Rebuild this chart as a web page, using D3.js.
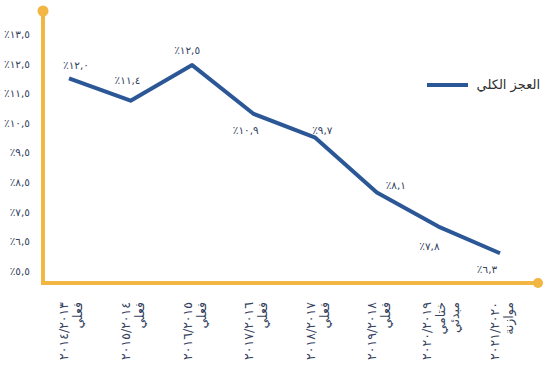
<!DOCTYPE html>
<html lang="ar">
<head>
<meta charset="utf-8">
<script src="https://cdn.jsdelivr.net/npm/d3@7/dist/d3.min.js"></script>
<style>
  html, body { margin: 0; padding: 0; background: #ffffff; }
  svg { display: block; font-family: "DejaVu Sans", "Noto Sans", sans-serif; }
</style>
</head>
<body>
<svg id="chart" width="550" height="366"></svg>
<script>
// ---- data ----
const categories = [
  ["٢٠١٤/٢٠١٣", "فعلي"],
  ["٢٠١٥/٢٠١٤", "فعلي"],
  ["٢٠١٦/٢٠١٥", "فعلي"],
  ["٢٠١٧/٢٠١٦", "فعلي"],
  ["٢٠١٨/٢٠١٧", "فعلي"],
  ["٢٠١٩/٢٠١٨", "فعلي"],
  ["٢٠٢٠/٢٠١٩", "ختامي", "مبدئي"],
  ["٢٠٢١/٢٠٢٠", "موازنة"]
];
// values as printed on the chart (%)
const deficitLabels = [12.0, 11.4, 12.5, 10.9, 9.7, 8.1, 7.8, 6.3];
// values as the line is drawn against the axis (%)
const deficitPlotted = [12.0, 11.25, 12.45, 10.8, 10.0, 8.15, 7.0, 6.1];
const yTicks = [13.5, 12.5, 11.5, 10.5, 9.5, 8.5, 7.5, 6.5, 5.5];
const seriesName = "العجز الكلي";

// label placement relative to each point (layout only)
const labelPlacement = [[7, -13], [-3, -20], [-5, -15], [-8, 16], [7, -7], [19, -7], [-9, 20], [-13, 16]];

// ---- helpers ----
const arDigits = "٠١٢٣٤٥٦٧٨٩";
const toAr = s => s.replace(/[0-9]/g, d => arDigits[+d]).replace(".", ",");
const LRO = "\u202D", PDF = "\u202C";
const pct = v => LRO + "٪" + toAr(v.toFixed(1)) + PDF;

const svg = d3.select("#chart");
const axisColor = "#F1B643";
const lineColor = "#2B5797";
const textColor = "#34425E";

const x = d3.scalePoint().domain(d3.range(categories.length)).range([69, 500]);
const y = d3.scaleLinear().domain([5.5, 13.5]).range([271, 34]);

// y tick labels via d3 axis
const yAxis = d3.axisLeft(y).tickValues(yTicks).tickSize(0).tickPadding(13).tickFormat(pct);
const gy = svg.append("g").attr("transform", "translate(43,0)").call(yAxis);
gy.select(".domain").remove();
gy.selectAll("text").attr("fill", textColor).attr("font-size", 10.5).attr("font-family", "DejaVu Sans, sans-serif");

// L-shaped golden axis with dots
svg.append("path")
  .attr("d", "M43,11V283H538")
  .attr("fill", "none").attr("stroke", axisColor).attr("stroke-width", 4);
svg.append("circle").attr("cx", 43).attr("cy", 11).attr("r", 5.5).attr("fill", axisColor);
svg.append("circle").attr("cx", 538).attr("cy", 283).attr("r", 5).attr("fill", axisColor);

// x category labels (rotated)
const lineH = 14;
categories.forEach((lines, i) => {
  const g = svg.append("g").attr("transform", `translate(${x(i) + 2},302) rotate(-90)`);
  const t = g.append("text")
    .attr("text-anchor", "end")
    .attr("fill", textColor)
    .attr("font-size", 12.5);
  lines.forEach((ln, j) => {
    const off = (j - (lines.length - 1) / 2) * lineH;
    t.append("tspan")
      .attr("x", 0)
      .attr("y", off)
      .attr("dy", "0.35em")
      .text(j === 0 ? LRO + ln + PDF : ln);
  });
});

// line
const line = d3.line().x((d, i) => x(i)).y(d => y(d));
svg.append("path")
  .datum(deficitPlotted)
  .attr("d", line)
  .attr("fill", "none")
  .attr("stroke", lineColor)
  .attr("stroke-width", 4)
  .attr("stroke-linejoin", "round");

// data labels
svg.selectAll(".dl").data(deficitLabels).enter().append("text")
  .attr("class", "dl")
  .attr("x", (d, i) => x(i) + labelPlacement[i][0])
  .attr("y", (d, i) => y(deficitPlotted[i]) + labelPlacement[i][1])
  .attr("dy", "0.35em")
  .attr("text-anchor", "middle")
  .attr("fill", textColor)
  .attr("font-size", 10.5)
  .text(d => pct(d));

// legend
svg.append("line")
  .attr("x1", 427).attr("x2", 468).attr("y1", 85).attr("y2", 85)
  .attr("stroke", lineColor).attr("stroke-width", 4);
svg.append("text")
  .attr("x", 540).attr("y", 84).attr("dy", "0.35em")
  .attr("text-anchor", "end")
  .attr("fill", "#2f2f2f")
  .attr("font-size", 13)
  .text(seriesName);
</script>
</body>
</html>
